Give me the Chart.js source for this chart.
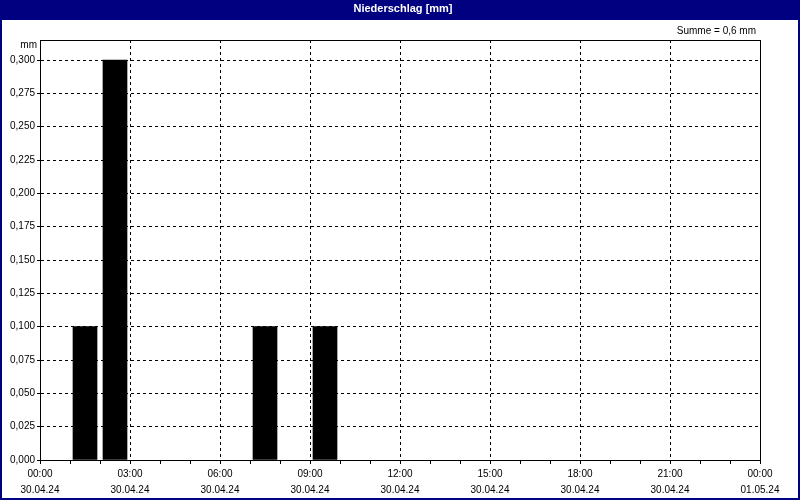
<!DOCTYPE html>
<html>
<head>
<meta charset="utf-8">
<script src="https://cdn.jsdelivr.net/npm/chart.js@4"></script>
<style>
html,body{margin:0;padding:0;background:#fff;}
#wrap{width:800px;height:500px;position:relative;}
</style>
</head>
<body>
<div id="wrap"><canvas id="c" width="800" height="500"></canvas></div>
<script>
// Hourly precipitation, 30.04.24 (hour-interval start -> mm)
const hours = [1, 2, 7, 9];
const precip = [0.1, 0.3, 0.1, 0.1];
const titleText = 'Niederschlag [mm]';
const sumText = 'Summe = 0,6 mm';
const unitText = 'mm';
const timeLabels = ['00:00','03:00','06:00','09:00','12:00','15:00','18:00','21:00','00:00'];
const dateLabels = ['30.04.24','30.04.24','30.04.24','30.04.24','30.04.24','30.04.24','30.04.24','30.04.24','01.05.24'];
const yTickMax = 0.3;
const yStep = 0.025;

const FONT = "'Liberation Sans', Arial, sans-serif";
const NAVY = '#000080';

const framePlugin = {
  id: 'frame',
  beforeDraw(chart) {
    const ctx = chart.ctx;
    ctx.save();
    ctx.fillStyle = '#fff';
    ctx.fillRect(0, 0, chart.width, chart.height);
    ctx.fillStyle = NAVY;
    ctx.fillRect(0, 0, chart.width, 20);
    ctx.fillStyle = '#fff';
    ctx.font = 'bold 11px ' + FONT;
    ctx.textAlign = 'center';
    ctx.textBaseline = 'middle';
    ctx.fillText(titleText, chart.width / 2 + 3, 9);
    ctx.restore();
  },
  afterDraw(chart) {
    const ctx = chart.ctx;
    const a = chart.chartArea;
    ctx.save();
    ctx.strokeStyle = '#000';
    ctx.lineWidth = 1;
    ctx.setLineDash([]);
    ctx.strokeRect(Math.round(a.left) + 0.5, Math.round(a.top) + 0.5, Math.round(a.right - a.left), Math.round(a.bottom - a.top));
    ctx.fillStyle = '#000';
    ctx.font = '10px ' + FONT;
    ctx.textBaseline = 'middle';
    ctx.textAlign = 'right';
    ctx.fillText(unitText, a.left - 3, 45);
    ctx.fillText(sumText, a.right - 4, 31);
    // navy outer border
    ctx.strokeStyle = NAVY;
    ctx.lineWidth = 2;
    ctx.strokeRect(1, 1, chart.width - 2, chart.height - 2);
    ctx.restore();
  }
};

new Chart(document.getElementById('c'), {
  type: 'bar',
  data: {
    datasets: [{
      data: hours.map((h, i) => ({ x: h + 0.5, y: precip[i] })),
      backgroundColor: '#000',
      borderWidth: 0,
      barThickness: 24
    }]
  },
  options: {
    responsive: false,
    animation: false,
    events: [],
    layout: { padding: { top: 40, right: 40, left: 0, bottom: 0 } },
    plugins: { legend: { display: false }, tooltip: { enabled: false }, title: { display: false } },
    scales: {
      x: {
        type: 'linear',
        min: 0,
        max: 24,
        offset: false,
        afterFit(s) { s.height = 40; },
        ticks: {
          stepSize: 1,
          autoSkip: false,
          maxRotation: 0,
          color: '#000',
          padding: 2,
          font: { family: FONT, size: 10, lineHeight: 1.6 },
          callback(v) {
            if (v % 3 !== 0) return '';
            const k = v / 3;
            return [timeLabels[k], dateLabels[k]];
          }
        },
        grid: {
          offset: false,
          color: (c) => (c.tick && c.tick.value % 3 === 0 && c.tick.value > 0 && c.tick.value < 24) ? '#000' : 'rgba(0,0,0,0)',
          tickColor: '#000',
          tickLength: 4,
          lineWidth: 1
        },
        border: { display: true, color: '#000', width: 1, dash: [3, 3] }
      },
      y: {
        min: 0,
        max: 0.315,
        afterFit(s) { s.width = 40; },
        afterBuildTicks(s) {
          const t = [];
          for (let i = 0; i * yStep <= yTickMax + 1e-9; i++) t.push({ value: +(i * yStep).toFixed(3) });
          s.ticks = t;
        },
        ticks: {
          color: '#000',
          padding: 2,
          font: { family: FONT, size: 10 },
          callback(v) { return v.toFixed(3).replace('.', ','); }
        },
        grid: {
          offset: false,
          color: (c) => (c.tick && c.tick.value > 0) ? '#000' : 'rgba(0,0,0,0)',
          tickColor: '#000',
          tickLength: 3,
          lineWidth: 1
        },
        border: { display: true, color: '#000', width: 1, dash: [3, 3] }
      }
    }
  },
  plugins: [framePlugin]
});
</script>
</body>
</html>
